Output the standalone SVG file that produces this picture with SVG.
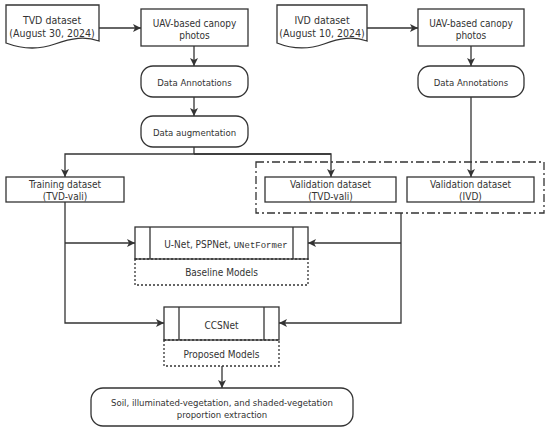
<svg xmlns="http://www.w3.org/2000/svg" width="550" height="433" viewBox="0 0 550 433">
<defs>
<marker id="arr" viewBox="0 0 10 10" refX="10" refY="5" markerWidth="8" markerHeight="8" markerUnits="userSpaceOnUse" orient="auto">
<path d="M0,0 L10,5 L0,10 L2.5,5 Z" fill="#333"/>
</marker>
</defs>
<style>
.box{fill:#fff;stroke:#333;stroke-width:1.3}
.dot{fill:none;stroke:#333;stroke-width:1.3;stroke-dasharray:2 2}
.grp{fill:none;stroke:#333;stroke-width:1.3;stroke-dasharray:8 3 2 3}
.ln{fill:none;stroke:#333;stroke-width:1.3}
.ar{fill:none;stroke:#333;stroke-width:1.3;marker-end:url(#arr)}
text{font-family:"DejaVu Sans Condensed","DejaVu Sans","Liberation Sans",sans-serif;font-stretch:condensed;fill:#333;text-anchor:middle;font-size:10px}
.s{font-size:9.5px}
.l{font-size:10.5px}
.mono{font-family:"Liberation Mono","Courier New",monospace;font-stretch:normal;font-size:9px}
</style>
<rect width="550" height="433" fill="#fff"/>
<g id="connectors">
<line class="ar" x1="99" y1="28" x2="141" y2="28"/>
<line class="ar" x1="194" y1="46" x2="194" y2="66"/>
<line class="ar" x1="194" y1="97" x2="194" y2="116"/>
<polyline class="ln" points="194,147 194,154"/>
<polyline class="ar" points="331,154 65,154 65,177"/>
<polyline class="ar" points="194,154 331,154 331,177"/>
<line class="ar" x1="367" y1="28" x2="418" y2="28"/>
<line class="ar" x1="471" y1="46" x2="471" y2="66"/>
<line class="ar" x1="471" y1="97" x2="471" y2="177"/>
<polyline class="ar" points="65,202 65,323 164,323"/>
<line class="ar" x1="65" y1="243" x2="135" y2="243"/>
<polyline class="ar" points="401,213 401,323 279,323"/>
<line class="ar" x1="401" y1="243" x2="308" y2="243"/>
<line class="ar" x1="222" y1="366" x2="222" y2="388"/>
</g>
<g id="tvd">
<path class="box" d="M6,5 H99 V41 C85,36 72,38 55,44 C38,50 22,49 6,43 Z"/>
<text class="l" x="52" y="24">TVD dataset</text>
<text class="l" x="52" y="37">(August 30, 2024)</text>
</g>
<g id="uav1">
<rect class="box" x="141" y="9" width="107" height="37"/>
<text x="194.5" y="27">UAV-based canopy</text>
<text x="194.5" y="39">photos</text>
</g>
<g id="ann1">
<rect class="box" x="141" y="66" width="107" height="31" rx="12"/>
<text class="s" x="194.5" y="85.5">Data Annotations</text>
</g>
<g id="aug">
<rect class="box" x="141" y="116" width="107" height="31" rx="12"/>
<text class="s" x="194.5" y="135.5">Data augmentation</text>
</g>
<g id="ivd">
<path class="box" d="M277,5 H367 V41 C353,36 340,38 324,44 C307,50 292,49 277,43 Z"/>
<text class="l" x="322" y="24">IVD dataset</text>
<text class="l" x="322" y="37">(August 10, 2024)</text>
</g>
<g id="uav2">
<rect class="box" x="418" y="9" width="106" height="37"/>
<text x="471" y="27">UAV-based canopy</text>
<text x="471" y="39">photos</text>
</g>
<g id="ann2">
<rect class="box" x="418" y="66" width="106" height="31" rx="12"/>
<text class="s" x="471" y="85.5">Data Annotations</text>
</g>
<g id="training">
<rect class="box" x="6" y="177" width="118" height="25"/>
<text x="65" y="188">Training dataset</text>
<text x="65" y="200">(TVD-vali)</text>
</g>
<g id="validation-group">
<rect class="grp" x="256" y="162" width="288" height="51"/>
</g>
<g id="val-tvd">
<rect class="box" x="265" y="177" width="131" height="25"/>
<text x="330.5" y="188">Validation dataset</text>
<text x="330.5" y="200">(TVD-vali)</text>
</g>
<g id="val-ivd">
<rect class="box" x="407" y="177" width="127" height="25"/>
<text x="470.5" y="188">Validation dataset</text>
<text x="470.5" y="200">(IVD)</text>
</g>
<g id="baseline">
<rect class="box" x="135" y="227" width="173" height="32"/>
<line class="ln" x1="150" y1="227" x2="150" y2="259"/>
<line class="ln" x1="293" y1="227" x2="293" y2="259"/>
<text x="226" y="247.5">U-Net, PSPNet, <tspan class="mono">UNetFormer</tspan></text>
<rect class="dot" x="135" y="259" width="173" height="26"/>
<text x="221.5" y="276">Baseline Models</text>
</g>
<g id="ccsnet">
<rect class="box" x="164" y="307" width="115" height="33"/>
<line class="ln" x1="179" y1="307" x2="179" y2="340"/>
<line class="ln" x1="264" y1="307" x2="264" y2="340"/>
<text x="221.5" y="328.5">CCSNet</text>
<rect class="dot" x="164" y="340" width="115" height="26"/>
<text x="221.5" y="357.5">Proposed Models</text>
</g>
<g id="result">
<rect class="box" x="91" y="388" width="262" height="38" rx="12"/>
<text class="s" x="222" y="405.5">Soil, illuminated-vegetation, and shaded-vegetation</text>
<text class="s" x="222" y="417.5">proportion extraction</text>
</g>
</svg>
